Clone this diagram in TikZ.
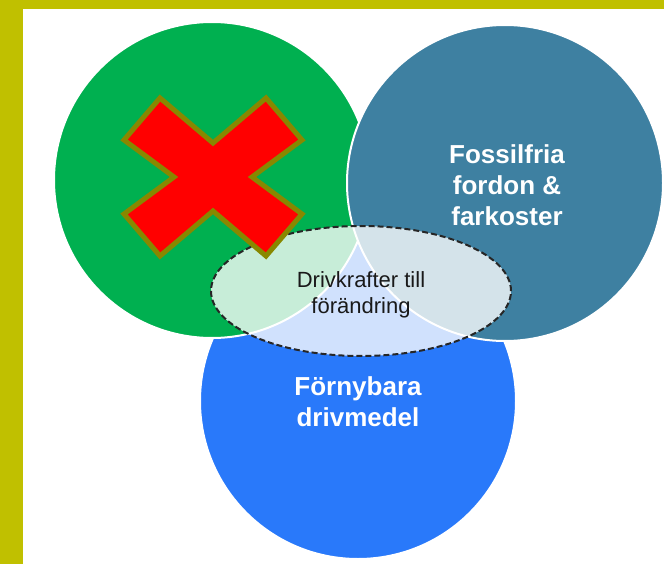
\documentclass[tikz,border=0pt]{standalone}
\usepackage{fontspec}
\setmainfont{Liberation Sans}
\usetikzlibrary{shapes.geometric}
\definecolor{frameyellow}{RGB}{192,192,0}
\definecolor{cgreen}{RGB}{0,176,80}
\definecolor{cteal}{RGB}{62,128,161}
\definecolor{cblue}{RGB}{41,121,250}
\definecolor{xolive}{RGB}{136,136,0}
\definecolor{xred}{RGB}{255,0,0}
\begin{document}
\begin{tikzpicture}[x=1pt,y=-1pt,
  venn/.style={circle, minimum size=316pt, inner sep=0pt, draw=white, line width=2pt},
  biglabel/.style={text=white, font=\fontsize{26}{31}\selectfont\bfseries, align=center, inner sep=0pt},
  centrelabel/.style={text=black!90, font=\fontsize{22}{26.5}\selectfont, align=center, inner sep=0pt}]
\useasboundingbox (0,0) rectangle (664,564);
\fill[frameyellow] (0,0) rectangle (664,564);
\fill[white] (23,9) rectangle (664,564);
% circles
\node[venn, fill=cblue] (blue) at (358,401) {};
\node[venn, fill=cgreen] (green) at (212,180) {};
\node[venn, fill=cteal] (teal) at (505,183) {};
% central ellipse
\node[ellipse, minimum width=300pt, minimum height=130pt, inner sep=0pt,
      fill=white, fill opacity=0.78, draw=black!85, line width=2pt,
      dash pattern=on 6pt off 3pt] (core) at (361,291) {};
\node[centrelabel] (coretext) at (361,295) {Drivkrafter till\\förändring};
% red cross
\filldraw[fill=xred, draw=xolive, line width=5pt, line join=miter]
  (160,98) -- (213,143) -- (266,98) -- (302,140) -- (252,177) -- (302,214)
  -- (266,256) -- (213,211) -- (160,256) -- (124,214) -- (174,177) -- (124,140) -- cycle;
% labels
\node[biglabel] (tealtext) at (507,185) {Fossilfria\\fordon \&\\farkoster};
\node[biglabel] (bluetext) at (358,402) {Förnybara\\drivmedel};
\end{tikzpicture}
\end{document}
